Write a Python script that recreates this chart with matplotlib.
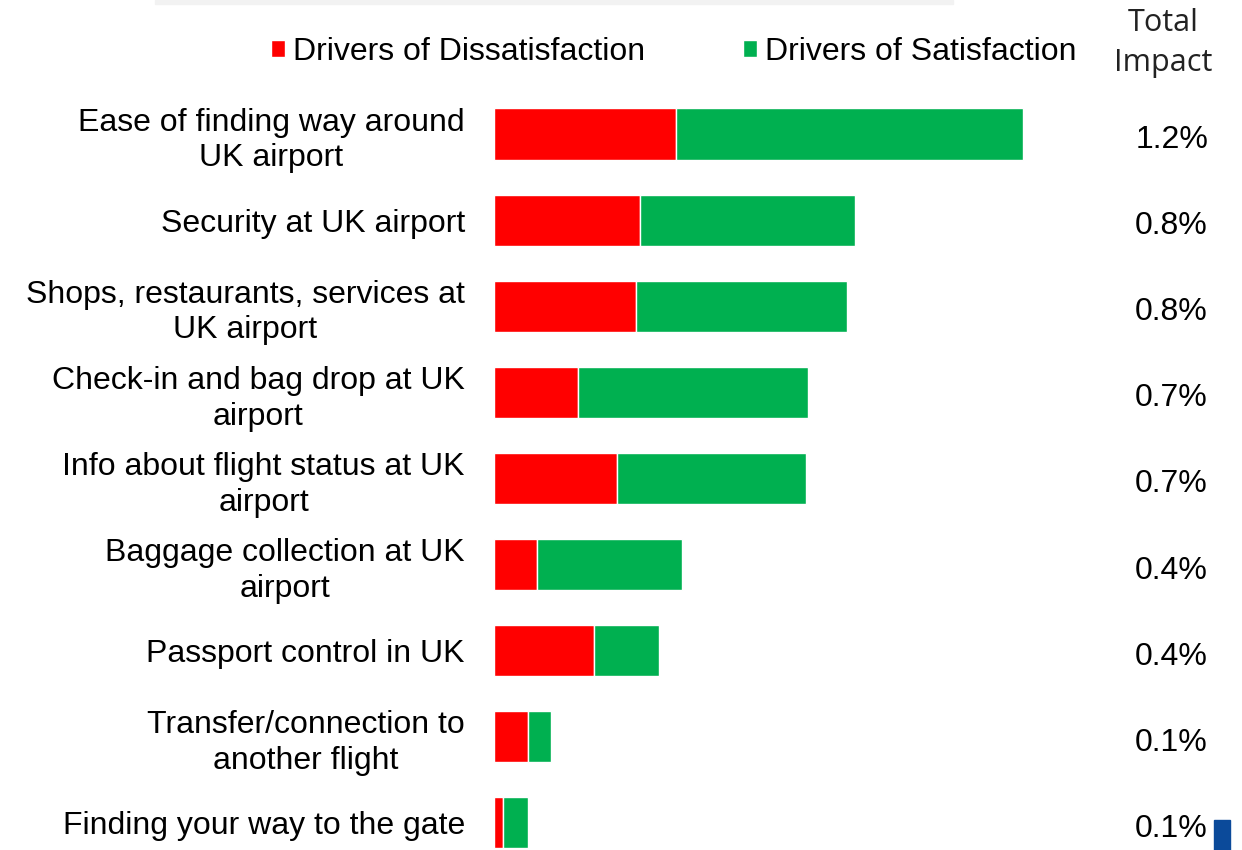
import matplotlib
matplotlib.use("Agg")
import matplotlib.pyplot as plt
from matplotlib.patches import Rectangle
from matplotlib.transforms import blended_transform_factory

# Drivers of overall satisfaction at UK airports (impact, % points)
categories = [
    "Ease of finding way around\nUK airport",
    "Security at UK airport",
    "Shops, restaurants, services at\nUK airport",
    "Check-in and bag drop at UK\nairport",
    "Info about flight status at UK\nairport",
    "Baggage collection at UK\nairport",
    "Passport control in UK",
    "Transfer/connection to\nanother flight",
    "Finding your way to the gate",
]
dissatisfaction = [0.413, 0.331, 0.322, 0.190, 0.279, 0.098, 0.227, 0.077, 0.020]
satisfaction = [0.787, 0.488, 0.478, 0.522, 0.429, 0.329, 0.147, 0.052, 0.057]
total_impact = ["1.2%", "0.8%", "0.8%", "0.7%", "0.7%", "0.4%", "0.4%", "0.1%", "0.1%"]
series_names = ["Drivers of Dissatisfaction", "Drivers of Satisfaction"]

RED = "#FF0000"
GREEN = "#00B050"
FONT = "Liberation Sans"
FS = 23

W, H = 1242, 850
fig = plt.figure(figsize=(W / 100, H / 100), dpi=100)
fig.patch.set_facecolor("white")

# axes in pixel terms: bars start at x=494, 441 px per percentage point
ax_left, ax_right = 494, 1100
ax = fig.add_axes([ax_left / W, 0, (ax_right - ax_left) / W, (850 - 91) / H])
ax.set_xlim(0, (ax_right - ax_left) / 441)
ax.set_ylim((850 - 134) / 86.1, -0.5)

rows = list(range(len(categories)))
b1 = ax.barh(rows, dissatisfaction, height=0.595, color=RED,
             edgecolor="white", linewidth=1.0, label=series_names[0])
b2 = ax.barh(rows, satisfaction, left=dissatisfaction, height=0.595, color=GREEN,
             edgecolor="white", linewidth=1.0, label=series_names[1])

for s in ax.spines.values():
    s.set_visible(False)
ax.set_xticks([])
ax.set_yticks(rows)
ax.set_yticklabels(categories, fontsize=FS, family=FONT, color="black")
ax.tick_params(axis="y", length=0, pad=21)
for lbl in ax.get_yticklabels():
    lbl.set_multialignment("center")
    lbl.set_linespacing(1.25)

# total impact column
tr = blended_transform_factory(fig.transFigure, ax.transData)
for r, txt in zip(rows, total_impact):
    ax.text(1208 / W, r + 0.07, txt, transform=tr, ha="right", va="center",
            fontsize=FS, family=FONT, color="black")
fig.text(1163 / W, 1 - 43 / H, "Total\nImpact", ha="center", va="center",
         fontsize=22, family="Open Sans", color="#222222", linespacing=1.45)

# legend
ax.legend(handles=[b1, b2], loc="center left", ncol=2,
          bbox_to_anchor=(271 / W, 1 - 52 / H), bbox_transform=fig.transFigure,
          frameon=False, prop={"family": FONT, "size": FS},
          handlelength=0.45, handleheight=0.45, handletextpad=0.25,
          columnspacing=3.05, borderpad=0, borderaxespad=0)

# decorations: thin grey strip at top, corner logo fragment
fig.patches.append(Rectangle((155 / W, 1 - 4 / H), (953 - 155) / W, 4 / H,
                             transform=fig.transFigure, color="#F2F2F2", zorder=0))
fig.patches.append(Rectangle((1214 / W, 0), 16 / W, 30 / H,
                             transform=fig.transFigure, color="#0B4A9A", zorder=0))

fig.savefig("out.png", dpi=100)
